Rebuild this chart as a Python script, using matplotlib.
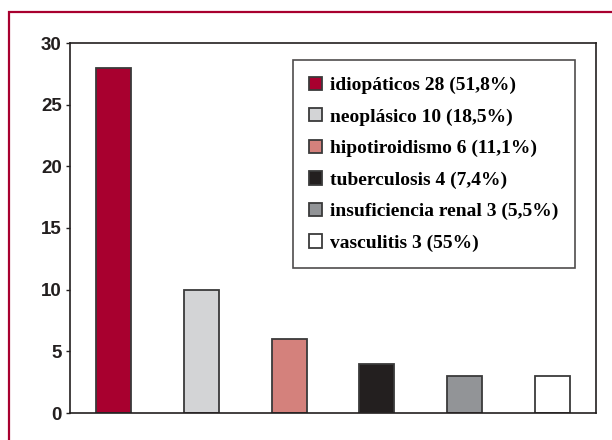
import matplotlib.pyplot as plt
from matplotlib.patches import Rectangle

# data
categories = ['idiopáticos 28 (51,8%)', 'neoplásico 10 (18,5%)', 'hipotiroidismo 6 (11,1%)',
              'tuberculosis 4 (7,4%)', 'insuficiencia renal 3 (5,5%)', 'vasculitis 3 (55%)']
counts = [28, 10, 6, 4, 3, 3]
colors = ['#a8002f', '#d3d4d6', '#d4817c', '#231f1f', '#929497', '#ffffff']
yticks = [0, 5, 10, 15, 20, 25, 30]

fig = plt.figure(figsize=(6.12, 4.4), dpi=100)
W, H = 612, 440

# red outer frame (runs off right and bottom edge)
fig.patches.append(Rectangle((9 / W, -0.1), 1.0, 1 - 12 / H + 0.1, transform=fig.transFigure,
                             fill=False, edgecolor='#a8002f', linewidth=1.6))

ax = fig.add_axes([70 / W, 1 - 413 / H, 526 / W, 370 / H])

for i, (lab, c, col) in enumerate(zip(categories, counts, colors)):
    ax.bar(i, c, width=0.4, color=col, edgecolor='#3a3a3a', linewidth=1.3, label=lab)

ax.set_xlim(-0.5, len(counts) - 0.5)
ax.set_ylim(0, 30)
ax.set_yticks(yticks)
ax.set_yticklabels([str(t) for t in yticks], fontfamily='Liberation Sans',
                   fontweight='bold', fontsize=13.5, color='#231f1f')
ax.set_xticks([])
ax.tick_params(axis='y', length=3, width=1, color='#231f1f', pad=3)
for s in ax.spines.values():
    s.set_color('#231f1f')
    s.set_linewidth(1.2)

leg = ax.legend(loc='upper right', bbox_to_anchor=((575 - 70) / 526, (413 - 60) / 370),
                prop={'family': 'Liberation Serif', 'weight': 'bold', 'size': 14},
                frameon=True, fancybox=False, edgecolor='#231f1f',
                handlelength=0.68, handleheight=0.68, handletextpad=0.4,
                labelspacing=0.72, borderpad=0.85, borderaxespad=0)
leg.get_frame().set_linewidth(1.2)

fig.savefig('out.png', dpi=100)
